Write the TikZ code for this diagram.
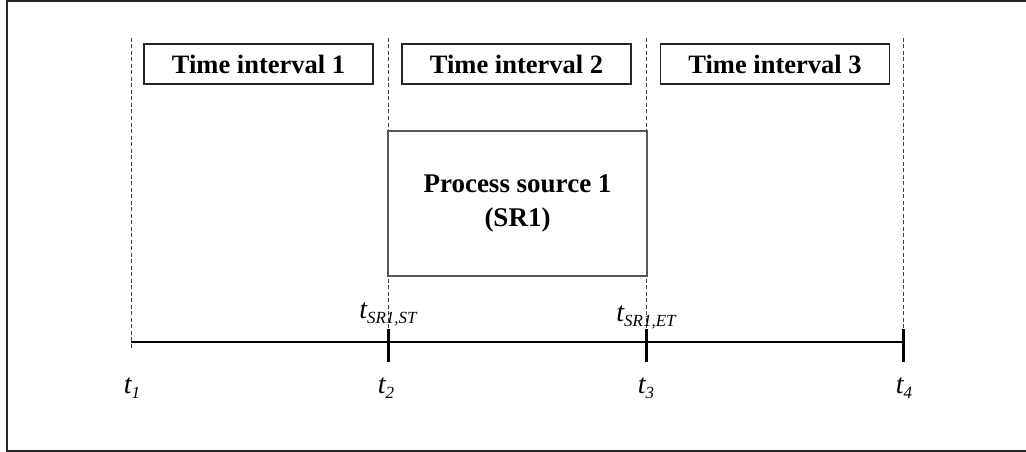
\documentclass[tikz,border=0pt]{standalone}
\usepackage{fontspec}
\setmainfont{Liberation Serif}
\newcommand{\tsub}[1]{{\fontsize{17}{17}\selectfont\raisebox{-5.5pt}{#1}}}
\begin{document}
\begin{tikzpicture}[x=1pt,y=-1pt,
  guide/.style={draw=black!75, line width=0.9pt, dash pattern=on 4pt off 2.5pt},
  intervalbox/.style={draw=black!85, line width=1.4pt, minimum width=229pt,
    minimum height=40pt, inner sep=0pt,
    font=\bfseries\fontsize{26.5}{30}\selectfont},
  sourcebox/.style={draw=black!65, line width=1.4pt, minimum width=259pt,
    minimum height=145pt, inner sep=0pt, align=center,
    font=\bfseries\fontsize{27}{34}\selectfont},
  tickmark/.style={line width=3pt},
  axis/.style={line width=1.6pt},
  tlabel/.style={font=\itshape\fontsize{28}{30}\selectfont, inner sep=0pt, anchor=base}
]
\useasboundingbox (0,0) rectangle (1026,452);
% outer frame (right edge runs off the page)
\draw[line width=2pt, draw=black!85] (7,1.5) rectangle (1040,451);

% time points
\coordinate (g1top) at (131,38);  \coordinate (g1bot) at (131,350);
\coordinate (g2top) at (388,38);  \coordinate (k2top) at (388,329); \coordinate (k2bot) at (388,362);
\coordinate (g3top) at (646,38);  \coordinate (k3top) at (646,329); \coordinate (k3bot) at (646,362);
\coordinate (g4top) at (903,38);  \coordinate (k4top) at (903,329); \coordinate (k4bot) at (903,362);
\coordinate (ax1) at (131,342);   \coordinate (ax4) at (903,342);

% dashed guides
\draw[guide] (g1top) -- (g1bot);
\draw[guide] (g2top) -- (k2top);
\draw[guide] (g3top) -- (k3top);
\draw[guide] (g4top) -- (k4top);

% interval boxes
\node[intervalbox] (iv1) at (258.5,64) {Time interval 1};
\node[intervalbox] (iv2) at (516.5,64) {Time interval 2};
\node[intervalbox] (iv3) at (775,64) {Time interval 3};

% process source
\node[sourcebox, fill=white] (sr1) at (517.5,203.5) {Process source 1\\(SR1)};

% time axis and ticks
\draw[axis] (ax1) -- (ax4);
\draw[tickmark] (k2top) -- (k2bot);
\draw[tickmark] (k3top) -- (k3bot);
\draw[tickmark] (k4top) -- (k4bot);

% labels
\node[tlabel] (tst) at (388,318) {t\tsub{SR1,ST}};
\node[tlabel] (tet) at (646,321) {t\tsub{SR1,ET}};
\node[tlabel] (t1) at (132,393) {t\tsub{1}};
\node[tlabel] (t2) at (386,393) {t\tsub{2}};
\node[tlabel] (t3) at (646,393) {t\tsub{3}};
\node[tlabel] (t4) at (904,393) {t\tsub{4}};
\end{tikzpicture}
\end{document}
